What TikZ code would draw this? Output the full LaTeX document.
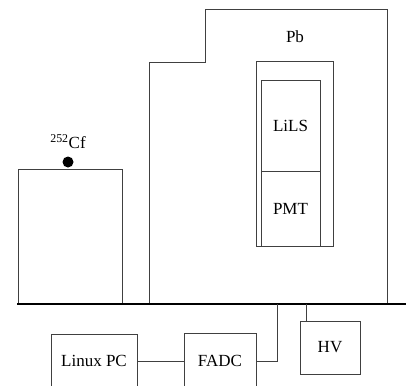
\documentclass[tikz,border=0pt]{standalone}
\usepackage{fontspec}
\setmainfont{Liberation Serif}
\usepackage{tikz}
\usetikzlibrary{positioning,calc}

\begin{document}
\begin{tikzpicture}[
    x=1pt, y=-1pt,
    line/.style={draw=black!75, line width=1pt},
    part/.style={line, inner sep=0pt, outer sep=0pt, align=center, font=\fontsize{17}{20}\selectfont},
    lbl/.style={inner sep=0pt, font=\fontsize{17}{20}\selectfont},
    floor/.style={draw=black, line width=2.2pt},
]
    \clip (0,0) rectangle (406,385);

    % Lead shield
    \draw[line] (149,303) -- (149,63) -- (205,63) -- (205,10) -- (387,10) -- (387,303);
    \node[lbl] (pb) at (295,37) {Pb};

    % Detector
    \node[part, minimum width=77, minimum height=184] (housing) at (294.5,154) {};
    \node[part, minimum width=59, minimum height=90] (lils) at (290.5,126) {LiLS};
    \node[part, minimum width=59, minimum height=75, below=0pt of lils] (pmt) {PMT};

    % Source
    \node[part, minimum width=104, minimum height=134] (stand) at (70,236) {};
    \node[circle, fill=black, minimum size=11, inner sep=0pt] (cf) at (68,162) {};
    \node[lbl] (cflbl) at (68,142) {\textsuperscript{252}Cf};

    % Floor
    \coordinate (fl) at (17,304);
    \coordinate (fr) at (406,304);
    \coordinate (fadctap) at (277,304);
    \coordinate (hvtap) at (306,304);
    \draw[floor] (fl) -- (fr);

    % Electronics
    \node[part, minimum width=86, minimum height=54] (pc) at (94,361) {Linux PC};
    \node[part, minimum width=72, minimum height=56] (fadc) at (220,361) {FADC};
    \node[part, minimum width=60, minimum height=53] (hv) at (330,347.5) {HV};

    % Cables
    \draw[line] (pc) -- (fadc);
    \draw[line] (fadc.east) -| (fadctap);
    \draw[line] (hvtap) -- (hvtap |- hv.north);
\end{tikzpicture}
\end{document}
